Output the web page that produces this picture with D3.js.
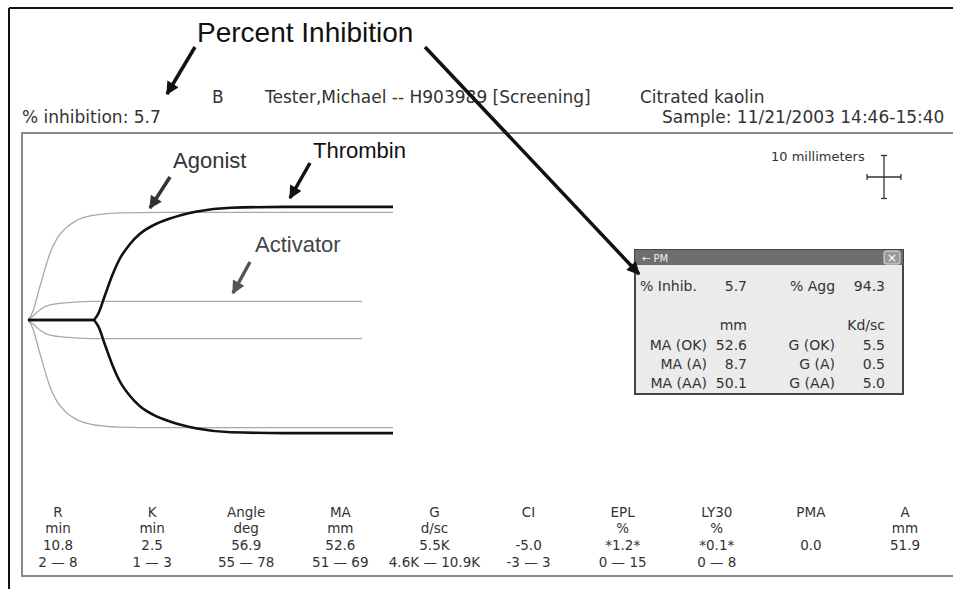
<!DOCTYPE html>
<html>
<head>
<meta charset="utf-8">
<script src="https://cdn.jsdelivr.net/npm/d3@7"></script>
<style>
body { margin: 0; background: #fff; }
svg text { font-family: "DejaVu Sans", Verdana, sans-serif; fill: #333; }
.note { font-family: "Liberation Sans", Arial, sans-serif; }
</style>
</head>
<body>
<div id="chart"></div>
<script>
// TEG tracings, time in minutes vs total amplitude in mm (drawn mirrored around the baseline)
var thrombinTime = [0, 9.6, 10.4, 11.4, 12.5, 13.6, 15, 16.6, 18.5, 21, 25, 30, 38, 54];
var thrombinAmp  = [0, 0, 3, 11.6, 21, 28.6, 35, 40.2, 44, 47.2, 50.5, 52.2, 52.6, 52.6];
var agonistTime  = [0, 0.6, 1.8, 3.25, 4.3, 5.5, 7, 9.2, 13.6, 20, 54];
var agonistAmp   = [0, 3, 16, 31, 38, 42.5, 46, 48.4, 49.8, 50.1, 50.1];
var activatorTime = [0, 0.8, 1.8, 3.25, 6, 10, 49.4];
var activatorAmp  = [0, 2, 4.8, 7, 8.1, 8.7, 8.7];

// header
var inhibition = 5.7;
var patient = "Tester,Michael -- H903989 [Screening]";
var channel = "B";
var sampleType = "Citrated kaolin";
var sampleTime = "Sample: 11/21/2003 14:46-15:40";

// PM window
var pmAgg = 94.3;
var maLabels = ["MA (OK)", "MA (A)", "MA (AA)"];
var maValues = [52.6, 8.7, 50.1];
var gLabels = ["G (OK)", "G (A)", "G (AA)"];
var gValues = [5.5, 0.5, 5.0];

// parameter table
var paramNames  = ["R", "K", "Angle", "MA", "G", "CI", "EPL", "LY30", "PMA", "A"];
var paramUnits  = ["min", "min", "deg", "mm", "d/sc", "", "%", "%", "", "mm"];
var paramValues = ["10.8", "2.5", "56.9", "52.6", "5.5K", "-5.0", "*1.2*", "*0.1*", "0.0", "51.9"];
var paramRanges = ["2 \u2014 8", "1 \u2014 3", "55 \u2014 78", "51 \u2014 69", "4.6K \u2014 10.9K", "-3 \u2014 3", "0 \u2014 15", "0 \u2014 8", "", ""];

var width = 953, height = 589;
var svg = d3.select("#chart").append("svg").attr("width", width).attr("height", height);

var defs = svg.append("defs");
function marker(id, color) {
  defs.append("marker").attr("id", id)
    .attr("viewBox", "0 0 10 10").attr("refX", 9).attr("refY", 5)
    .attr("markerUnits", "userSpaceOnUse")
    .attr("markerWidth", 14).attr("markerHeight", 13)
    .attr("orient", "auto")
    .append("path").attr("d", "M0,0L10,5L0,10z").attr("fill", color);
}
marker("arrBlack", "#111");
marker("arrDark", "#333");
marker("arrGray", "#555");

// frames
svg.append("line").attr("x1", 9).attr("y1", 8).attr("x2", width).attr("y2", 8)
  .attr("stroke", "#111").attr("stroke-width", 2);
svg.append("line").attr("x1", 9).attr("y1", 8).attr("x2", 9).attr("y2", height)
  .attr("stroke", "#111").attr("stroke-width", 2);
svg.append("rect").attr("x", 22).attr("y", 133).attr("width", width).attr("height", 443)
  .attr("fill", "none").attr("stroke", "#8a8a8a").attr("stroke-width", 2);

// header texts
svg.append("text").attr("x", 22).attr("y", 123).style("font-size", "17px").text("% inhibition: " + inhibition);
svg.append("text").attr("x", 212).attr("y", 103).style("font-size", "17px").text(channel);
svg.append("text").attr("x", 265).attr("y", 103).style("font-size", "17px").text(patient);
svg.append("text").attr("x", 640).attr("y", 103).style("font-size", "17px").text(sampleType);
svg.append("text").attr("x", 662).attr("y", 123).style("font-size", "17px").text(sampleTime);

// scales: 2 mm/min paper speed, amplitude in mm
var x = d3.scaleLinear().domain([0, 54]).range([28, 393]);
var y = d3.scaleLinear().domain([-30, 30]).range([320 + 129, 320 - 129]);

function pairs(t, a) { return t.map(function(d, i) { return [d, a[i]]; }); }
var upper = d3.line().x(function(d) { return x(d[0]); }).y(function(d) { return y(d[1] / 2); }).curve(d3.curveMonotoneX);
var lower = d3.line().x(function(d) { return x(d[0]); }).y(function(d) { return y(-d[1] / 2); }).curve(d3.curveMonotoneX);

var traces = [
  { data: pairs(agonistTime, agonistAmp), color: "#a8a8a8", w: 1.3 },
  { data: pairs(activatorTime, activatorAmp), color: "#a8a8a8", w: 1.3 },
  { data: pairs(thrombinTime, thrombinAmp), color: "#111", w: 2.6 }
];
var g = svg.append("g").attr("class", "traces");
traces.forEach(function(tr) {
  g.append("path").attr("d", upper(tr.data)).attr("fill", "none").attr("stroke", tr.color).attr("stroke-width", tr.w);
  g.append("path").attr("d", lower(tr.data)).attr("fill", "none").attr("stroke", tr.color).attr("stroke-width", tr.w);
});

// 10 mm scale cross
var cx = 884, cy = 177;
var halfV = y(0) - y(5), halfH = (x(5) - x(0)) / 2;
var cross = svg.append("g").attr("stroke", "#333").attr("stroke-width", 1.3);
cross.append("line").attr("x1", cx).attr("x2", cx).attr("y1", cy - halfV).attr("y2", cy + halfV);
cross.append("line").attr("x1", cx - halfH).attr("x2", cx + halfH).attr("y1", cy).attr("y2", cy);
cross.append("line").attr("x1", cx - 3).attr("x2", cx + 3).attr("y1", cy - halfV).attr("y2", cy - halfV);
cross.append("line").attr("x1", cx - 3).attr("x2", cx + 3).attr("y1", cy + halfV).attr("y2", cy + halfV);
cross.append("line").attr("x1", cx - halfH).attr("x2", cx - halfH).attr("y1", cy - 3).attr("y2", cy + 3);
cross.append("line").attr("x1", cx + halfH).attr("x2", cx + halfH).attr("y1", cy - 3).attr("y2", cy + 3);
svg.append("text").attr("x", 771).attr("y", 161).style("font-size", "13px").text("10 millimeters");

// PM window
var pm = svg.append("g").attr("class", "pm");
pm.append("rect").attr("x", 635).attr("y", 250).attr("width", 268).attr("height", 144)
  .attr("fill", "#ebebeb").attr("stroke", "#444").attr("stroke-width", 2);
pm.append("rect").attr("x", 635).attr("y", 250).attr("width", 268).attr("height", 15).attr("fill", "#6e6e6e");
pm.append("rect").attr("x", 884).attr("y", 251).attr("width", 16).attr("height", 13)
  .attr("fill", "#9a9a9a").attr("stroke", "#ddd").attr("rx", 2);
pm.append("text").attr("x", 892).attr("y", 262).attr("text-anchor", "middle")
  .style("font-size", "12px").style("fill", "#fff").text("\u00d7");
pm.append("text").attr("x", 642).attr("y", 262).style("font-size", "10px").style("fill", "#eee").text("\u2190 PM");

function pmText(xp, yp, anchor, txt) {
  pm.append("text").attr("x", xp).attr("y", yp).attr("text-anchor", anchor)
    .style("font-size", "14px").text(txt);
}
pmText(640, 291, "start", "% Inhib.");
pmText(747, 291, "end", inhibition.toFixed(1));
pmText(790, 291, "start", "% Agg");
pmText(885, 291, "end", pmAgg.toFixed(1));
pmText(747, 330, "end", "mm");
pmText(885, 330, "end", "Kd/sc");
maLabels.forEach(function(l, i) {
  var yy = 350 + i * 19;
  pmText(707, yy, "end", l);
  pmText(747, yy, "end", maValues[i].toFixed(1));
  pmText(835, yy, "end", gLabels[i]);
  pmText(885, yy, "end", gValues[i].toFixed(1));
});

// parameter table
var col = d3.scalePoint().domain(paramNames).range([58, 905]);
var rows = [paramNames, paramUnits, paramValues, paramRanges];
var rowY = [517, 533, 550, 567];
rows.forEach(function(r, ri) {
  svg.append("g").selectAll("text").data(r).enter().append("text")
    .attr("x", function(d, i) { return col(paramNames[i]); })
    .attr("y", rowY[ri])
    .attr("text-anchor", "middle")
    .style("font-size", "13.5px")
    .text(function(d) { return d; });
});

// annotations
var notes = svg.append("g").attr("class", "notes");
notes.append("text").attr("class", "note").attr("x", 197).attr("y", 42)
  .style("font-size", "28px").style("fill", "#111").text("Percent Inhibition");
notes.append("text").attr("class", "note").attr("x", 173).attr("y", 168)
  .style("font-size", "22px").style("fill", "#333").text("Agonist");
notes.append("text").attr("class", "note").attr("x", 313).attr("y", 158)
  .style("font-size", "22px").style("fill", "#111").text("Thrombin");
notes.append("text").attr("class", "note").attr("x", 255).attr("y", 252)
  .style("font-size", "22px").style("fill", "#444").text("Activator");

var arrows = [
  { x1: 195, y1: 47, x2: 167, y2: 94, c: "#111", m: "arrBlack" },
  { x1: 425, y1: 47, x2: 639, y2: 274, c: "#111", m: "arrBlack" },
  { x1: 170, y1: 177, x2: 150, y2: 208, c: "#333", m: "arrDark" },
  { x1: 310, y1: 163, x2: 290, y2: 198, c: "#111", m: "arrBlack" },
  { x1: 250, y1: 262, x2: 233, y2: 293, c: "#555", m: "arrGray" }
];
notes.selectAll("line").data(arrows).enter().append("line")
  .attr("x1", function(d) { return d.x1; }).attr("y1", function(d) { return d.y1; })
  .attr("x2", function(d) { return d.x2; }).attr("y2", function(d) { return d.y2; })
  .attr("stroke", function(d) { return d.c; }).attr("stroke-width", 3.5)
  .attr("marker-end", function(d) { return "url(#" + d.m + ")"; });
</script>
</body>
</html>
